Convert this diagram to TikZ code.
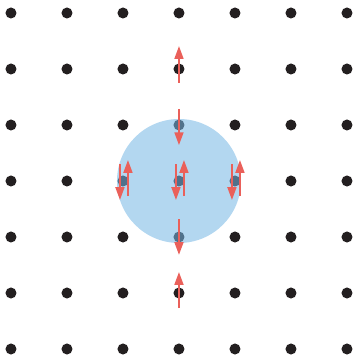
\documentclass[tikz,border=0pt]{standalone}
\usetikzlibrary{arrows.meta}
\definecolor{dotblack}{RGB}{35,31,32}
\definecolor{cloudblue}{RGB}{117,182,228}
\definecolor{spinred}{RGB}{234,96,90}
\begin{document}
\begin{tikzpicture}[line join=round, x=1cm, y=1cm,
	spin/.style={spinred, line width=1pt, -{Triangle[length=6.5pt, width=4.5pt]}}]
			\useasboundingbox (-0.196,-0.125) rectangle (6.107,6.232);
			\def\rd{2.8pt}
			\def\dl{-0.054}
			\def\dr{0.089}
			
			%
			\foreach \i in {0,...,6} {
				\foreach \j in {0,...,6} {
					\coordinate (P\i\j) at (\i, \j);
					\fill[dotblack] (P\i\j) circle (\rd);
				}
			}
			
			\coordinate (O) at (3, 3);
			\fill[cloudblue, fill opacity=0.55] (O) circle (1.107);
			
			\draw[spin] ([yshift=-0.25cm]P35) -- ([yshift=0.41cm]P35);
			\draw[spin] ([yshift=0.29cm]P34) -- ([yshift=-0.36cm]P34);
			
			\foreach \i in {2,3,4} {
				\draw[spin] ([xshift=\dl cm, yshift=0.30cm]P\i3) -- ([xshift=\dl cm, yshift=-0.34cm]P\i3);
				\draw[spin] ([xshift=\dr cm, yshift=-0.27cm]P\i3) -- ([xshift=\dr cm, yshift=0.375cm]P\i3);
			}
			
			\draw[spin] ([yshift=0.32cm]P32) -- ([yshift=-0.32cm]P32);
			\draw[spin] ([yshift=-0.27cm]P31) -- ([yshift=0.375cm]P31);
	\end{tikzpicture}
\end{document}
